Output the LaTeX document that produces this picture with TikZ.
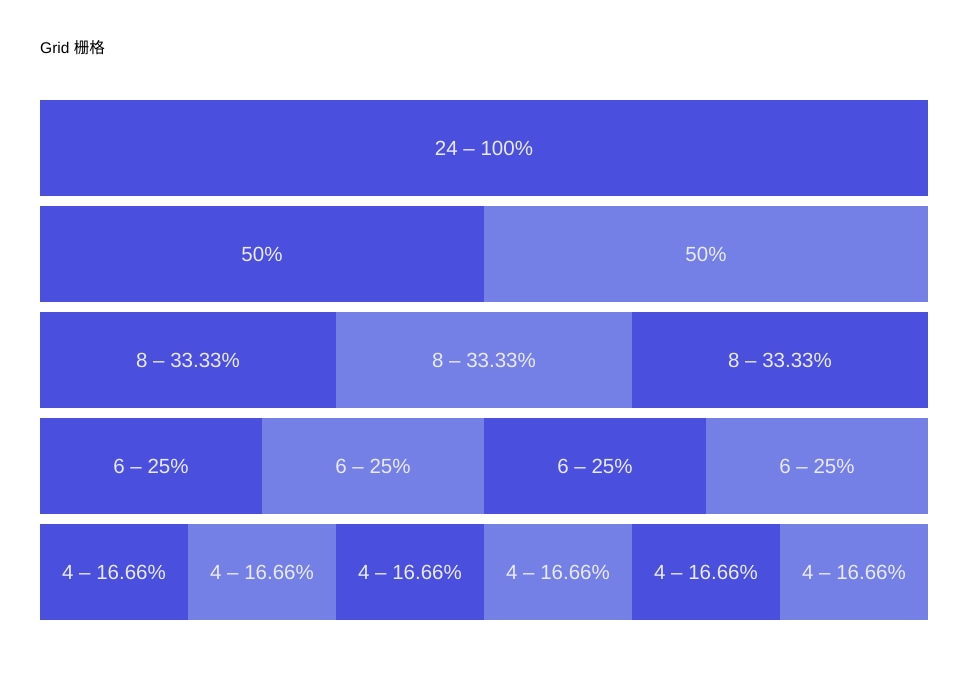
\documentclass[tikz,border=0pt]{standalone}
\usepackage{fontspec}
\setmainfont{Liberation Sans}
\newfontfamily\cjk{Noto Sans CJK SC}
\usepackage{xcolor}
\usetikzlibrary{positioning}
\definecolor{griddark}{HTML}{4B4FDE}
\definecolor{gridlight}{HTML}{7580E6}
\definecolor{gridtext}{HTML}{E9EBFB}
\tikzset{
  gridcell/.style={
    rectangle, fill=griddark, draw=none, inner sep=0pt, outer sep=0pt,
    minimum height=96pt, text=gridtext, font=\fontsize{20.5}{24}\selectfont
  },
  gridalt/.style={gridcell, fill=gridlight},
  gridtitle/.style={anchor=west, inner sep=0pt, font=\fontsize{15.5}{18}\selectfont},
}

\begin{document}
\begin{tikzpicture}[x=1pt, y=-1pt, node distance=10pt and 0pt]
  \useasboundingbox (0,0) rectangle (977,682);
  \node (title) [gridtitle] at (40,48) {Grid {\cjk 栅格}};
  % row 1
  \node (r1) [gridcell, minimum width=888pt, anchor=north west] at (40,100) {24 – 100\%};
  % row 2
  \node (r2a) [gridcell, minimum width=444pt, below=of r1.south west, anchor=north west] {50\%};
  \node (r2b) [gridalt, minimum width=444pt, right=of r2a] {50\%};
  % row 3
  \node (r3a) [gridcell, minimum width=296pt, below=of r2a.south west, anchor=north west] {8 – 33.33\%};
  \node (r3b) [gridalt, minimum width=296pt, right=of r3a] {8 – 33.33\%};
  \node (r3c) [gridcell, minimum width=296pt, right=of r3b] {8 – 33.33\%};
  % row 4
  \node (r4a) [gridcell, minimum width=222pt, below=of r3a.south west, anchor=north west] {6 – 25\%};
  \node (r4b) [gridalt, minimum width=222pt, right=of r4a] {6 – 25\%};
  \node (r4c) [gridcell, minimum width=222pt, right=of r4b] {6 – 25\%};
  \node (r4d) [gridalt, minimum width=222pt, right=of r4c] {6 – 25\%};
  % row 5
  \node (r5a) [gridcell, minimum width=148pt, below=of r4a.south west, anchor=north west] {4 – 16.66\%};
  \node (r5b) [gridalt, minimum width=148pt, right=of r5a] {4 – 16.66\%};
  \node (r5c) [gridcell, minimum width=148pt, right=of r5b] {4 – 16.66\%};
  \node (r5d) [gridalt, minimum width=148pt, right=of r5c] {4 – 16.66\%};
  \node (r5e) [gridcell, minimum width=148pt, right=of r5d] {4 – 16.66\%};
  \node (r5f) [gridalt, minimum width=148pt, right=of r5e] {4 – 16.66\%};
\end{tikzpicture}
\end{document}
